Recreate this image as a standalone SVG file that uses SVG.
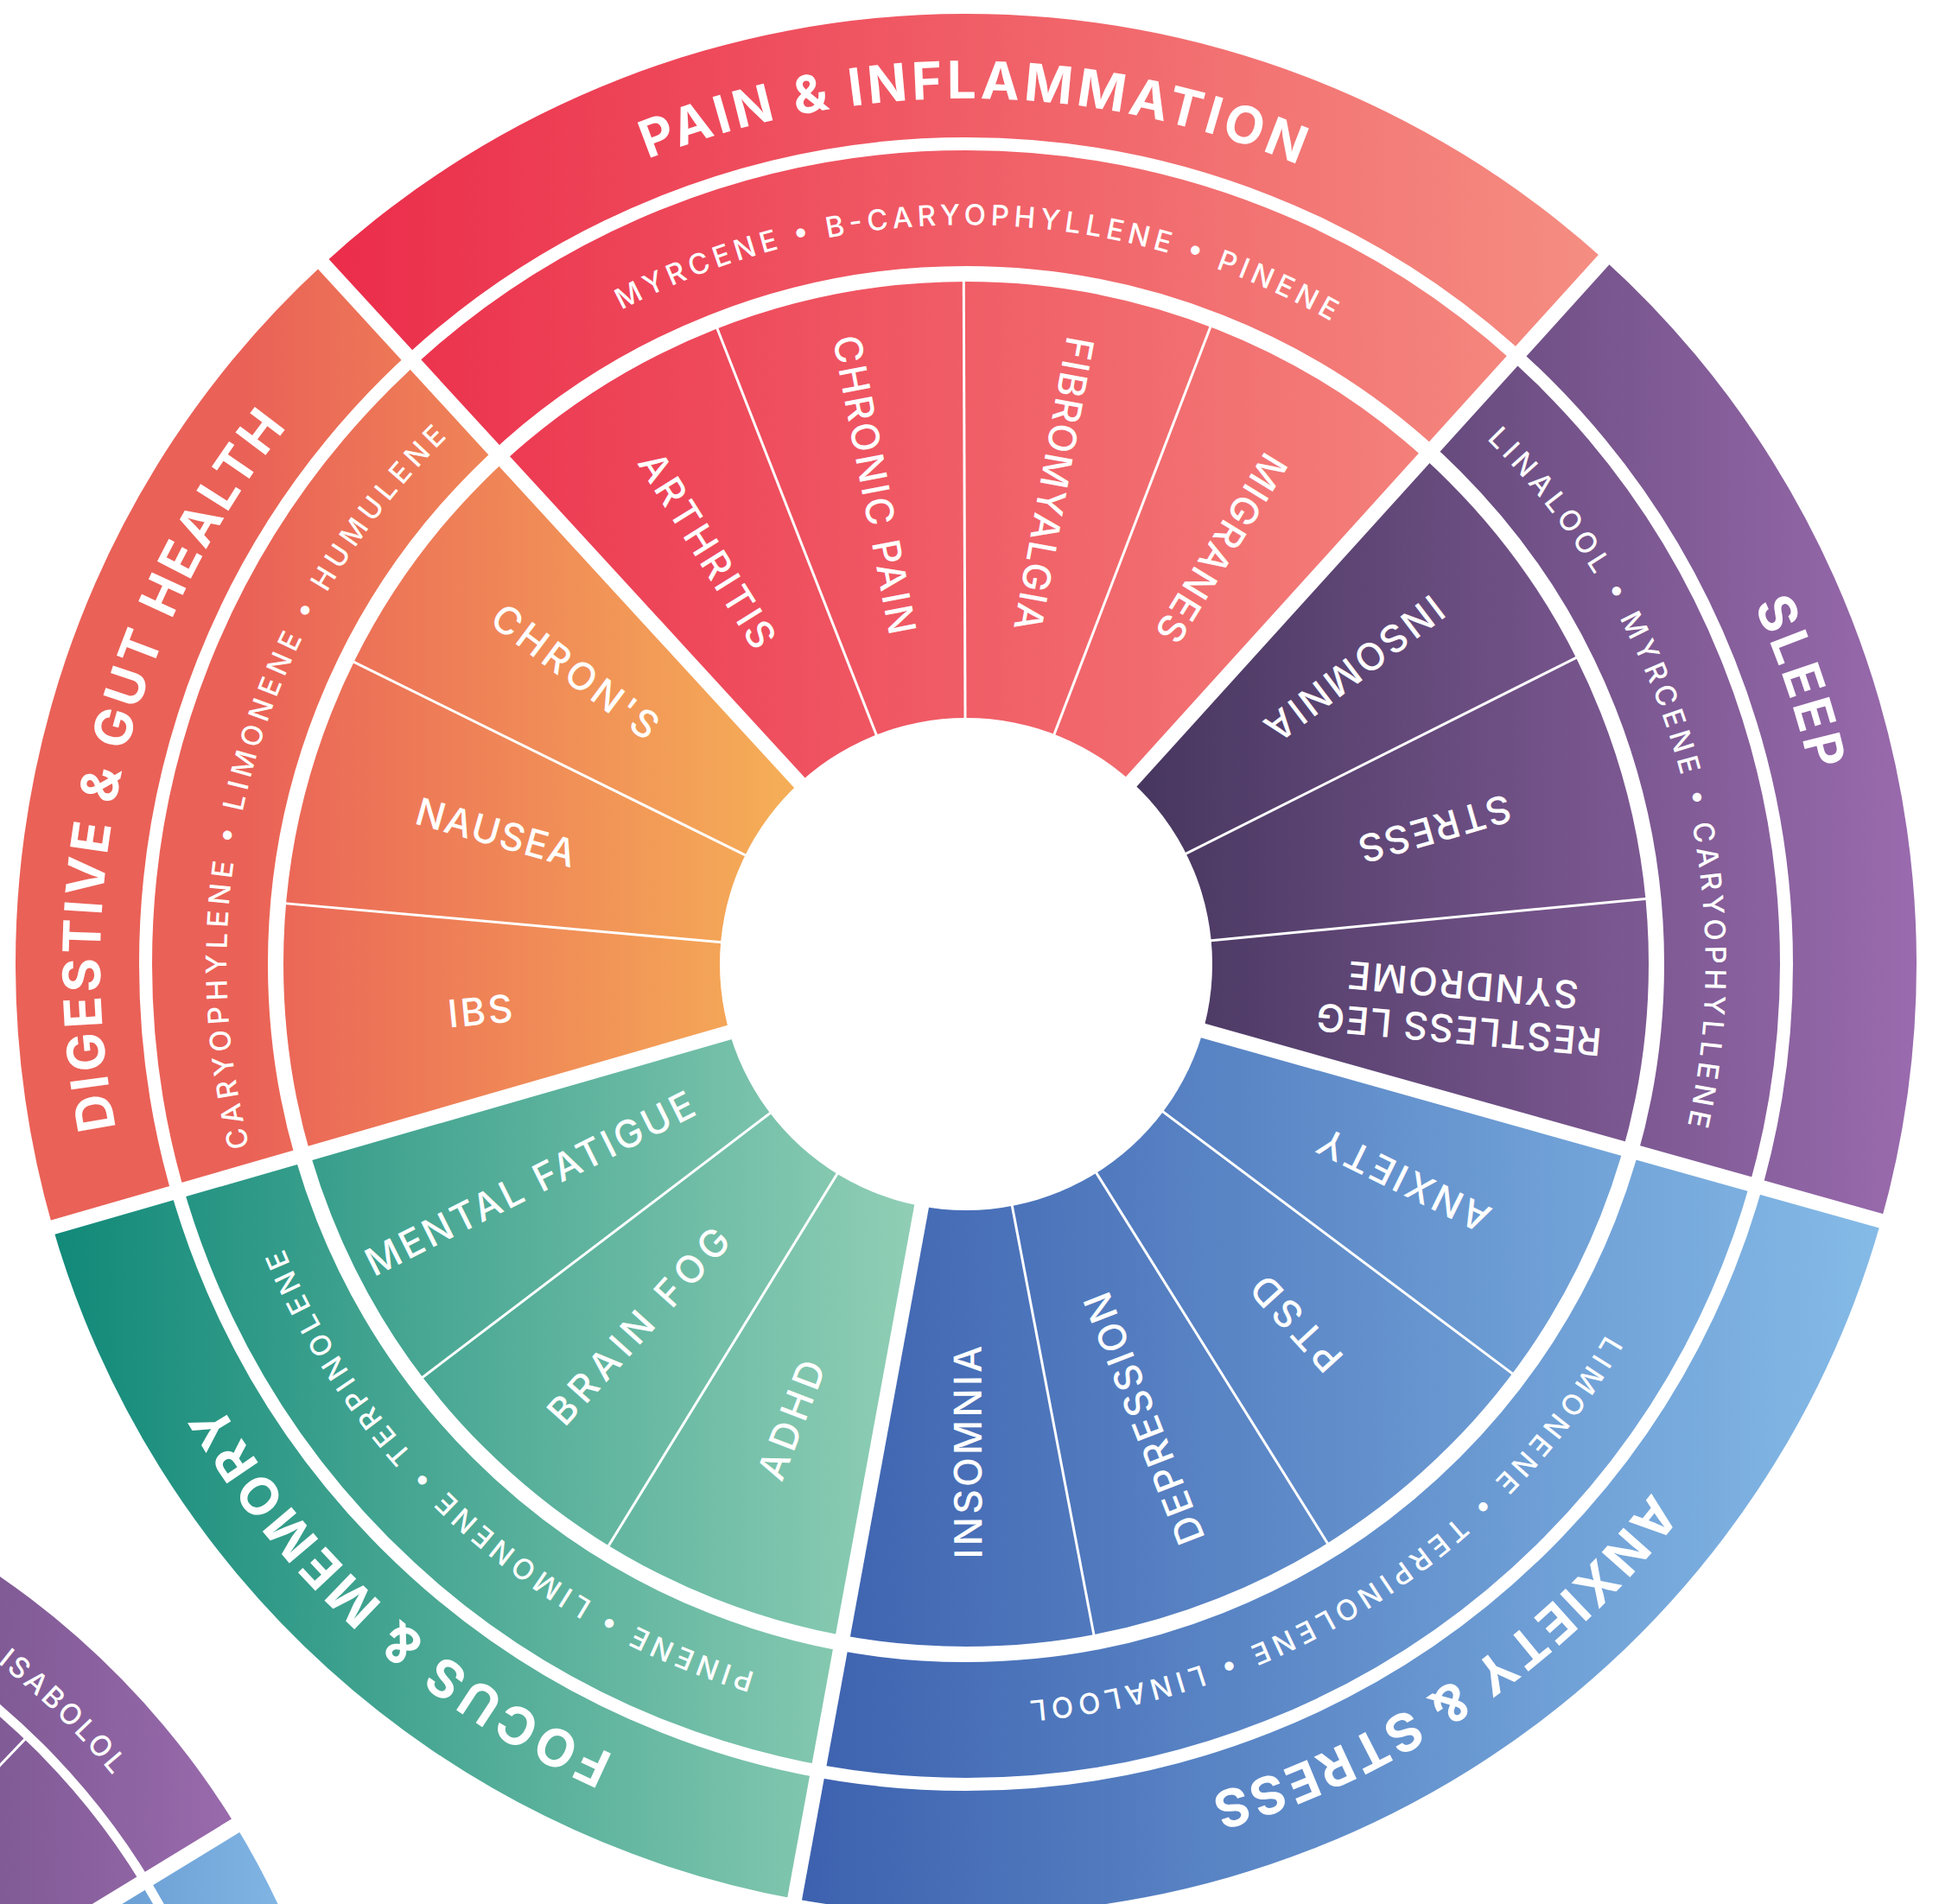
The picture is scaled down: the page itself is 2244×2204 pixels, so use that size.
<svg xmlns="http://www.w3.org/2000/svg" xmlns:xlink="http://www.w3.org/1999/xlink" width="2244" height="2204" viewBox="0 0 2244 2204">
<style>
text{font-family:Inter,"Liberation Sans","DejaVu Sans",sans-serif;fill:#fff;text-anchor:middle}
.title{font-weight:700;font-size:60px}
.terp{font-weight:500;font-size:33px}
.lbl{font-weight:500;font-size:44px}
.sep{stroke:#fff;fill:none}
</style>
<defs>
<linearGradient id="gPain" gradientUnits="userSpaceOnUse" x1="374" y1="0" x2="1856" y2="0"><stop offset="0" stop-color="#EB2C4A"/><stop offset="1" stop-color="#F58E82"/></linearGradient>
<linearGradient id="gSleep" gradientUnits="userSpaceOnUse" x1="1309" y1="0" x2="2218" y2="0"><stop offset="0" stop-color="#46365E"/><stop offset="1" stop-color="#9A6BAE"/></linearGradient>
<linearGradient id="gAnx" gradientUnits="userSpaceOnUse" x1="915" y1="0" x2="2177" y2="0"><stop offset="0" stop-color="#3C60AE"/><stop offset="1" stop-color="#85BBE7"/></linearGradient>
<linearGradient id="gFocus" gradientUnits="userSpaceOnUse" x1="61" y1="0" x2="1067" y2="0"><stop offset="0" stop-color="#118979"/><stop offset="1" stop-color="#91CFB6"/></linearGradient>
<linearGradient id="gDig" gradientUnits="userSpaceOnUse" x1="280" y1="0" x2="910" y2="0"><stop offset="0" stop-color="#EA6157"/><stop offset="1" stop-color="#F5AE57"/></linearGradient>
<linearGradient id="gPurple2" gradientUnits="userSpaceOnUse" x1="-100" y1="0" x2="300" y2="0"><stop offset="0" stop-color="#77558D"/><stop offset="1" stop-color="#9C6CAF"/></linearGradient>
<linearGradient id="gBlue2" gradientUnits="userSpaceOnUse" x1="150" y1="0" x2="340" y2="0"><stop offset="0" stop-color="#6DA1D6"/><stop offset="1" stop-color="#82B6E4"/></linearGradient>
<path id="arcT" d="M116 1116 A1002 1002 0 0 1 2120 1116"/>
<path id="arcM" d="M262 1116 A856 856 0 0 1 1974 1116"/>
<path id="arcB" d="M-1413.6 2610.3 A872 872 0 0 1 330.4 2610.3"/>
</defs>

<g id="wheel2">
<path d="M-541.6 2610.3 L-707.26 1670.79 A954 954 0 0 1 272.69 2113.26 Z" fill="url(#gPurple2)"/>
<path d="M-541.6 2610.3 L272.69 2113.26 A954 954 0 0 1 397.91 2775.96 Z" fill="url(#gBlue2)"/>
<circle class="sep" cx="-541.6" cy="2610.3" r="831" stroke-width="11"/>
<line class="sep" x1="-541.6" y1="2610.3" x2="286.34" y2="2104.92" stroke-width="18"/>
<line class="sep" x1="-127.07" y1="2176.43" x2="31.83" y2="2010.11" stroke-width="3"/>
<g transform="rotate(44.3 -541.6 2610.3)"><text class="terp"><textPath xlink:href="#arcB" href="#arcB" startOffset="50%" textLength="187" lengthAdjust="spacing">ISABOLOL</textPath></text></g>
</g>

<g id="pain">
<path d="M1118 1116 L374.14 305.64 A1100 1100 0 0 1 1856.25 300.54 Z" fill="url(#gPain)"/>
</g>
<g id="sleep">
<path d="M1118 1116 L1856.25 300.54 A1100 1100 0 0 1 2177.04 1413.36 Z" fill="url(#gSleep)"/>
</g>
<g id="anxiety-stress">
<path d="M1118 1116 L2177.04 1413.36 A1100 1100 0 0 1 919.62 2197.96 Z" fill="url(#gAnx)"/>
</g>
<g id="focus-memory">
<path d="M1118 1116 L919.62 2197.96 A1100 1100 0 0 1 61.04 1420.70 Z" fill="url(#gFocus)"/>
</g>
<g id="digestive">
<path d="M1118 1116 L61.04 1420.70 A1100 1100 0 0 1 374.14 305.64 Z" fill="url(#gDig)"/>
</g>

<g id="separators">
<circle class="sep" cx="1118" cy="1116" r="799" stroke-width="18"/>
<circle class="sep" cx="1118" cy="1116" r="949.5" stroke-width="15"/>
<g class="sep" stroke-width="17">
<line x1="1118" y1="1116" x2="363.99" y2="294.59"/>
<line x1="1118" y1="1116" x2="1866.32" y2="289.42"/>
<line x1="1118" y1="1116" x2="2191.49" y2="1417.42"/>
<line x1="1118" y1="1116" x2="916.91" y2="2212.72"/>
<line x1="1118" y1="1116" x2="46.63" y2="1424.85"/>
</g>
<g class="sep" stroke-width="3">
<line x1="1118" y1="1116" x2="828.26" y2="375.68"/>
<line x1="1118" y1="1116" x2="1115.27" y2="321.00"/>
<line x1="1118" y1="1116" x2="1402.63" y2="373.70"/>
<line x1="1118" y1="1116" x2="1828.43" y2="759.19"/>
<line x1="1118" y1="1116" x2="1909.35" y2="1039.91"/>
<line x1="1118" y1="1116" x2="1754.07" y2="1592.90"/>
<line x1="1118" y1="1116" x2="1538.85" y2="1790.47"/>
<line x1="1118" y1="1116" x2="1266.79" y2="1896.95"/>
<line x1="1118" y1="1116" x2="701.83" y2="1793.37"/>
<line x1="1118" y1="1116" x2="485.24" y2="1597.29"/>
<line x1="1118" y1="1116" x2="326.14" y2="1045.38"/>
<line x1="1118" y1="1116" x2="405.12" y2="764.11"/>
</g>
<circle cx="1118" cy="1116" r="285" fill="#fff"/>
</g>

<g id="labels">
<g id="pain-text">
<g transform="rotate(0.5 1118 1116)"><text class="title"><textPath xlink:href="#arcT" href="#arcT" startOffset="50%" textLength="772" lengthAdjust="spacing">PAIN &amp; INFLAMMATION</textPath></text></g>
<g transform="rotate(0.9 1118 1116)"><text class="terp"><textPath xlink:href="#arcM" href="#arcM" startOffset="50%" textLength="857" lengthAdjust="spacing">MYRCENE • B-CARYOPHYLLENE • PINENE</textPath></text></g>
<text class="lbl" transform="translate(1118 1116) rotate(-121.96) translate(565 0) rotate(180)" y="16" textLength="258" lengthAdjust="spacing">ARTHRITIS</text>
<text class="lbl" transform="translate(1118 1116) rotate(-100.79) translate(565 0) rotate(180)" y="16" textLength="351" lengthAdjust="spacing">CHRONIC PAIN</text>
<text class="lbl" transform="translate(1118 1116) rotate(-79.61) translate(565 0) rotate(180)" y="16" textLength="345" lengthAdjust="spacing">FIBROMYALGIA</text>
<text class="lbl" transform="translate(1118 1116) rotate(-58.43) translate(565 0) rotate(180)" y="16" textLength="247" lengthAdjust="spacing">MIGRANES</text>
</g>
<g id="sleep-text">
<g transform="rotate(71.3 1118 1116)"><text class="title"><textPath xlink:href="#arcT" href="#arcT" startOffset="50%" textLength="203" lengthAdjust="spacing">SLEEP</textPath></text></g>
<g transform="rotate(73.67 1118 1116)"><text class="terp"><textPath xlink:href="#arcM" href="#arcM" startOffset="50%" textLength="864" lengthAdjust="spacing">LINALOOL • MYRCENE • CARYOPHYLLENE</textPath></text></g>
<text class="lbl" transform="translate(1118 1116) rotate(-37.26) translate(565 0) rotate(180)" y="16" textLength="247" lengthAdjust="spacing">INSOMNIA</text>
<text class="lbl" transform="translate(1118 1116) rotate(-16.08) translate(565 0) rotate(180)" y="16" textLength="181" lengthAdjust="spacing">STRESS</text>
<text class="lbl" transform="translate(1118 1116) rotate(5.10) translate(575 0) rotate(180)" y="-9" textLength="331" lengthAdjust="spacing">RESTLESS LEG</text>
<text class="lbl" transform="translate(1118 1116) rotate(5.10) translate(575 0) rotate(180)" y="43" textLength="268" lengthAdjust="spacing">SYNDROME</text>
</g>
<g id="anxiety-text">
<g transform="rotate(145.6 1118 1116)"><text class="title"><textPath xlink:href="#arcT" href="#arcT" startOffset="50%" textLength="629" lengthAdjust="spacing">ANXIETY &amp; STRESS</textPath></text></g>
<g transform="rotate(147.6 1118 1116)"><text class="terp"><textPath xlink:href="#arcM" href="#arcM" startOffset="50%" textLength="822" lengthAdjust="spacing">LIMONENE • TERPINOLENE • LINALOOL</textPath></text></g>
<text class="lbl" transform="translate(1118 1116) rotate(26.27) translate(565 0) rotate(180)" y="16" textLength="216" lengthAdjust="spacing">ANXIETY</text>
<text class="lbl" transform="translate(1118 1116) rotate(47.45) translate(565 0) rotate(180)" y="16" textLength="133" lengthAdjust="spacing">PTSD</text>
<text class="lbl" transform="translate(1118 1116) rotate(68.63) translate(565 0) rotate(180)" y="16" textLength="309" lengthAdjust="spacing">DEPRESSION</text>
<text class="lbl" transform="translate(1118 1116) rotate(89.80) translate(565 0) rotate(180)" y="16" textLength="247" lengthAdjust="spacing">INSOMNIA</text>
</g>
<g id="focus-text">
<g transform="rotate(221.8 1118 1116)"><text class="title"><textPath xlink:href="#arcT" href="#arcT" startOffset="50%" textLength="623" lengthAdjust="spacing">FOCUS &amp; MEMORY</textPath></text></g>
<g transform="rotate(221.97 1118 1116)"><text class="terp"><textPath xlink:href="#arcM" href="#arcM" startOffset="50%" textLength="759" lengthAdjust="spacing">PINENE • LIMONENE • TERPINOLENE</textPath></text></g>
<text class="lbl" transform="translate(1118 1116) rotate(110.98) translate(565 0) rotate(180)" y="16" textLength="144" lengthAdjust="spacing">ADHD</text>
<text class="lbl" transform="translate(1118 1116) rotate(132.15) translate(565 0) rotate(180)" y="16" textLength="290" lengthAdjust="spacing">BRAIN FOG</text>
<text class="lbl" transform="translate(1118 1116) rotate(153.33) translate(565 0) rotate(180)" y="16" textLength="420" lengthAdjust="spacing">MENTAL FATIGUE</text>
</g>
<g id="digestive-text">
<g transform="rotate(283.7 1118 1116)"><text class="title"><textPath xlink:href="#arcT" href="#arcT" startOffset="50%" textLength="862" lengthAdjust="spacing">DIGESTIVE &amp; GUT HEALTH</textPath></text></g>
<g transform="rotate(285.58 1118 1116)"><text class="terp"><textPath xlink:href="#arcM" href="#arcM" startOffset="50%" textLength="892" lengthAdjust="spacing">CARYOPHYLENE • LIMONENE • HUMULENE</textPath></text></g>
<text class="lbl" transform="translate(1118 1116) rotate(174.51) translate(565 0) rotate(180)" y="16" textLength="75" lengthAdjust="spacing">IBS</text>
<text class="lbl" transform="translate(1118 1116) rotate(195.68) translate(565 0) rotate(180)" y="16" textLength="190" lengthAdjust="spacing">NAUSEA</text>
<text class="lbl" transform="translate(1118 1116) rotate(216.86) translate(565 0) rotate(180)" y="16" textLength="229" lengthAdjust="spacing">CHRON'S</text>
</g>
</g>
</svg>
